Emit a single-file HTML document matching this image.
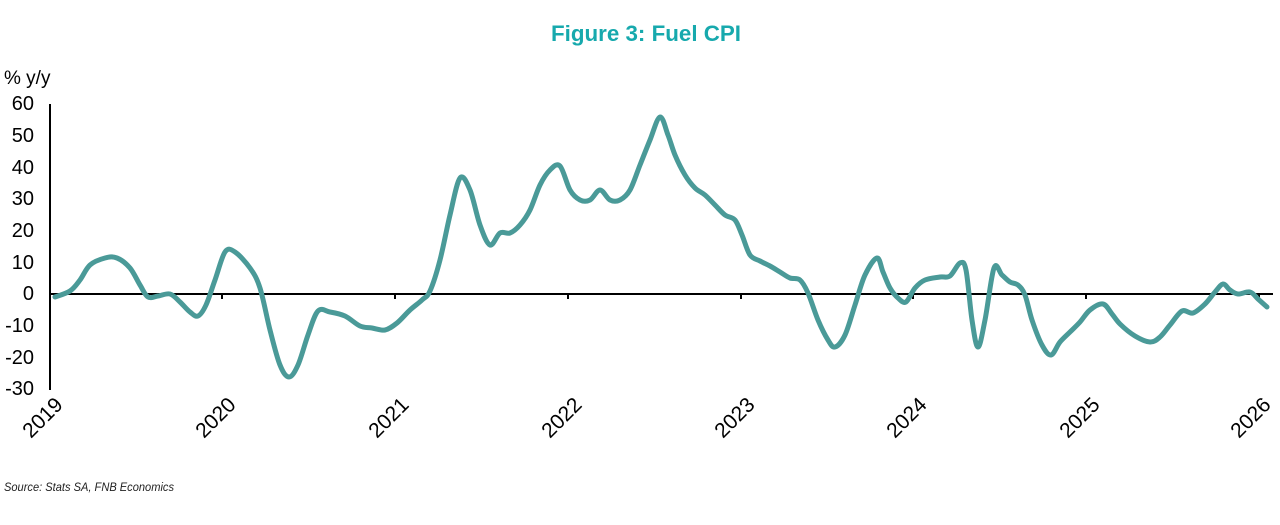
<!DOCTYPE html>
<html><head><meta charset="utf-8"><style>
body{margin:0;background:#fff;width:1280px;height:520px;overflow:hidden;font-family:"Liberation Sans",sans-serif}
</style></head><body>
<svg width="1280" height="520" xmlns="http://www.w3.org/2000/svg" font-family="Liberation Sans, sans-serif">
<text x="646" y="41" text-anchor="middle" font-size="22" font-weight="bold" fill="#17a9ad" textLength="190" lengthAdjust="spacingAndGlyphs">Figure 3: Fuel CPI</text>
<text x="4" y="84" font-size="19" fill="#000">% y/y</text>
<g font-size="20" fill="#000" text-anchor="end">
<text x="34" y="110">60</text><text x="34" y="142">50</text><text x="34" y="174">40</text>
<text x="34" y="205">30</text><text x="34" y="237">20</text><text x="34" y="269">10</text>
<text x="34" y="300">0</text><text x="34" y="332">-10</text><text x="34" y="364">-20</text><text x="34" y="395">-30</text>
</g>
<line x1="50" y1="104" x2="50" y2="390" stroke="#000" stroke-width="2"/>
<line x1="50" y1="294" x2="1273" y2="294" stroke="#000" stroke-width="2"/>
<g stroke="#000" stroke-width="2">
<line x1="222" y1="294" x2="222" y2="299"/><line x1="395" y1="294" x2="395" y2="299"/>
<line x1="568" y1="294" x2="568" y2="299"/><line x1="741" y1="294" x2="741" y2="299"/>
<line x1="913" y1="294" x2="913" y2="299"/><line x1="1086" y1="294" x2="1086" y2="299"/>
<line x1="1259" y1="294" x2="1259" y2="299"/>
</g>
<g font-size="21" fill="#000" text-anchor="end">
<text transform="translate(64,406) rotate(-45)">2019</text>
<text transform="translate(237,406) rotate(-45)">2020</text>
<text transform="translate(410,406) rotate(-45)">2021</text>
<text transform="translate(583,406) rotate(-45)">2022</text>
<text transform="translate(756,406) rotate(-45)">2023</text>
<text transform="translate(928,406) rotate(-45)">2024</text>
<text transform="translate(1101,406) rotate(-45)">2025</text>
<text transform="translate(1272,406) rotate(-45)">2026</text>
</g>
<polyline id="pl" fill="none" stroke="#4a9a98" stroke-width="5" stroke-linejoin="round" stroke-linecap="round" points="55,297 70,291 80,280 90,265 105,258 117,258 130,268 140,285 148,297 158,296 170,294 180,302 190,312 198,316 206,305 215,280 225,252 235,252 250,268 260,288 270,330 280,365 289,377 298,365 308,335 318,311 330,312 345,316 360,326 372,328 385,330 397,323 410,310 422,300 430,291 440,260 450,215 460,178 470,190 480,225 490,245 500,233 510,233 520,225 530,210 540,185 550,170 560,166 570,190 580,200 590,200 600,190 610,200 620,200 630,190 640,165 650,140 660,117 668,135 675,155 685,175 695,188 705,195 715,205 725,215 735,220 742,235 750,255 760,261 770,266 780,272 790,278 800,280 808,293 818,320 828,340 835,347 845,335 855,305 865,275 877,258 883,272 890,288 898,298 906,302 915,288 925,280 940,277 950,276 960,263 966,270 972,320 978,347 985,320 994,268 1002,275 1010,282 1018,285 1025,295 1032,320 1042,345 1051,355 1060,342 1070,332 1080,322 1090,310 1103,304 1112,314 1120,324 1135,336 1150,342 1160,337 1170,325 1182,311 1193,313 1205,304 1215,292 1223,284 1230,290 1238,294 1250,292 1258,299 1267,307"/>
<path id="sm" fill="none" stroke="#4a9a98" stroke-width="5" stroke-linejoin="round" stroke-linecap="round" d=""/>
<text x="4" y="491" font-size="12" font-style="italic" fill="#222" textLength="170" lengthAdjust="spacingAndGlyphs">Source: Stats SA, FNB Economics</text>
</svg>
<script>
(function(){
var pl=document.getElementById('pl');
var p=pl.getAttribute('points').trim().split(/\s+/).map(function(s){return s.split(',').map(Number);});
var d='M'+p[0][0]+','+p[0][1];
for(var i=0;i<p.length-1;i++){
var p0=p[i-1]||p[i],p1=p[i],p2=p[i+1],p3=p[i+2]||p2;
var c1x=p1[0]+(p2[0]-p0[0])/6,c1y=p1[1]+(p2[1]-p0[1])/6;
var c2x=p2[0]-(p3[0]-p1[0])/6,c2y=p2[1]-(p3[1]-p1[1])/6;
d+=' C'+c1x.toFixed(1)+','+c1y.toFixed(1)+' '+c2x.toFixed(1)+','+c2y.toFixed(1)+' '+p2[0]+','+p2[1];
}
document.getElementById('sm').setAttribute('d',d);
pl.setAttribute('stroke','none');
})();
</script>
</body></html>
